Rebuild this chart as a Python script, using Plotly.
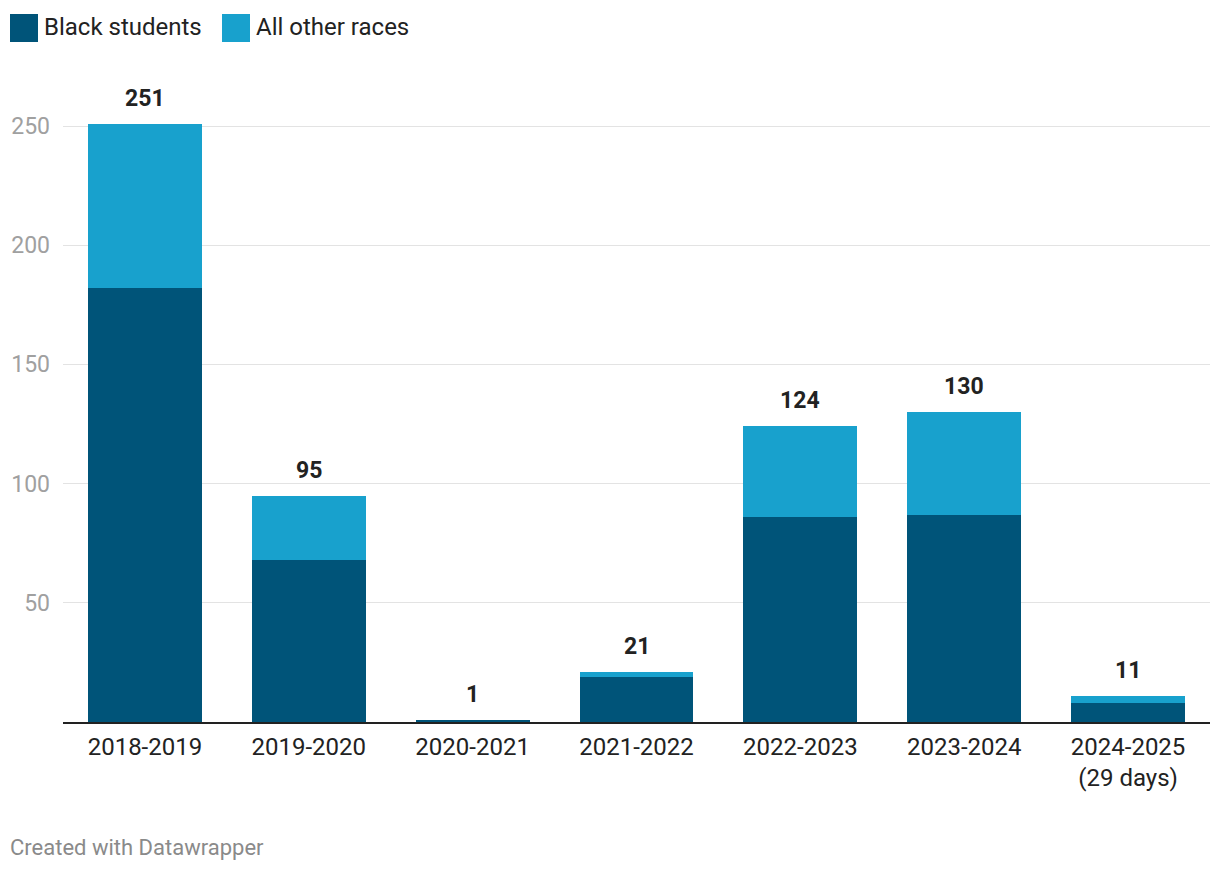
import plotly.graph_objects as go

categories = ["2018-2019", "2019-2020", "2020-2021", "2021-2022", "2022-2023", "2023-2024", "2024-2025<br>(29 days)"]
black_students = [182, 68, 1, 19, 86, 87, 8]
totals = [251, 95, 1, 21, 124, 130, 11]
other_races = [t - b for t, b in zip(totals, black_students)]
y_ticks = [50, 100, 150, 200, 250]

DARK = "#005479"
LIGHT = "#18a1cd"
FONT = "Roboto"

# page offset (browser body margin) compensation
OFF = 8
W, H = 1220, 872
ML, MT = 63 - OFF, 85 - OFF
PW, PH = 1147, 637
MR = W - ML - PW
MB = H - MT - PH

fig = go.Figure()
fig.add_trace(go.Bar(x=categories, y=black_students, name="Black students",
                     marker=dict(color=DARK, line=dict(width=0)), width=0.695))
fig.add_trace(go.Bar(x=categories, y=other_races, name="All other races",
                     marker=dict(color=LIGHT, line=dict(width=0)), width=0.695))

for c, t in zip(categories, totals):
    fig.add_annotation(x=c, y=t, text=f"<b>{t}</b>", showarrow=False,
                       yanchor="bottom", yshift=10,
                       font=dict(family=FONT, size=23, color="#222222"))

fig.update_layout(
    barmode="stack",
    width=W, height=H,
    margin=dict(l=ML, r=MR, t=MT, b=MB, autoexpand=False),
    paper_bgcolor="white", plot_bgcolor="white",
    showlegend=False,
    font=dict(family=FONT, size=23, color="#222222"),
    xaxis=dict(
        type="category",
        range=[-0.5, 6.5],
        automargin=False,
        showgrid=False,
        showline=True, linecolor="#222222", linewidth=2,
        ticks="",
        tickfont=dict(family=FONT, size=24, color="#222222"),
        ticklabelstandoff=2,
    ),
    yaxis=dict(
        range=[0, 267.2],
        tickvals=y_ticks,
        automargin=False,
        showgrid=True, gridcolor="#e3e3e3", gridwidth=1,
        zeroline=False, showline=False,
        ticks="",
        tickfont=dict(family=FONT, size=23, color="#a0a0a0"),
        ticklabelstandoff=12,
    ),
)


def px_x(px):
    return (px - OFF - ML) / PW


def px_y(py):
    return (MT + PH - (py - OFF)) / PH


legend_items = [("Black students", DARK, 10), ("All other races", LIGHT, 222)]
for label, col, x0 in legend_items:
    fig.add_shape(type="rect", xref="paper", yref="paper",
                  x0=px_x(x0), x1=px_x(x0 + 28), y0=px_y(42), y1=px_y(14),
                  fillcolor=col, line=dict(width=0))
    fig.add_annotation(xref="paper", yref="paper", x=px_x(x0 + 32), y=px_y(27),
                       xanchor="left", yanchor="middle", showarrow=False,
                       text=label, font=dict(family=FONT, size=24, color="#222222"))

fig.add_annotation(xref="paper", yref="paper", x=px_x(8), y=px_y(847),
                   xanchor="left", yanchor="middle", showarrow=False,
                   text="Created with Datawrapper",
                   font=dict(family=FONT, size=22, color="#8a8a8a"))

fig.write_html("out.html")
